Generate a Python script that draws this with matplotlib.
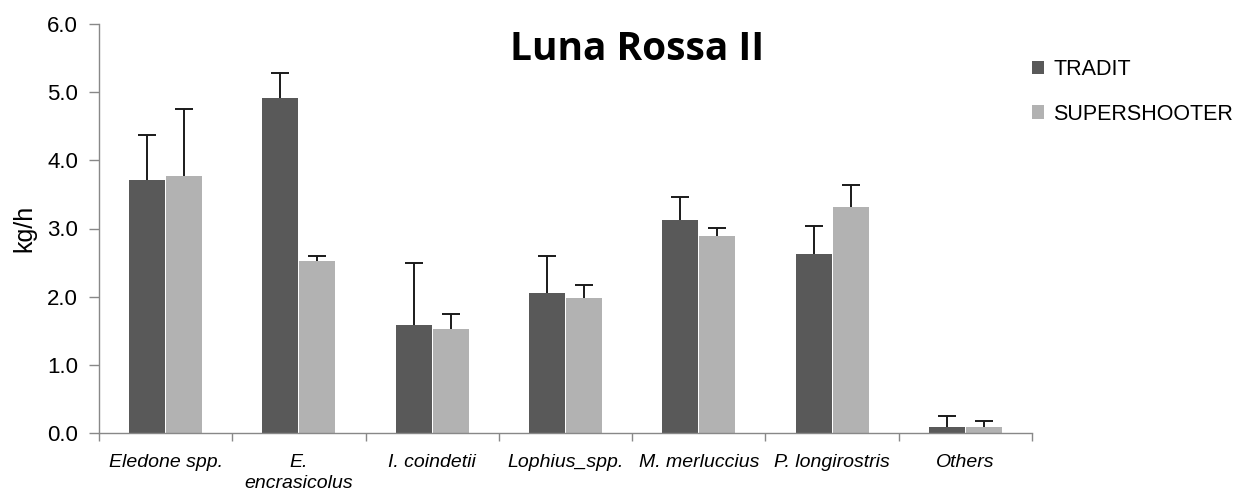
#!/usr/bin/env python3
# -*- coding: utf-8 -*-
"""
Grouped bar chart of catch rates (kg/h) by species for Luna Rossa II.
"""

import numpy as np
import matplotlib
matplotlib.use('Agg')
import matplotlib.pyplot as plt

species = ['Eledone spp.', 'E.\nencrasicolus', 'I. coindetii', 'Lophius_spp.',
           'M. merluccius', 'P. longirostris', 'Others']
tradit = [3.71, 4.92, 1.58, 2.06, 3.13, 2.63, 0.09]
tradit_err = [0.66, 0.36, 0.92, 0.54, 0.33, 0.40, 0.16]
supershooter = [3.77, 2.53, 1.53, 1.98, 2.89, 3.32, 0.09]
supershooter_err = [0.99, 0.07, 0.22, 0.19, 0.12, 0.32, 0.08]

DARK = '#595959'
LIGHT = '#b2b2b2'

plt.rcParams['font.family'] = ['Liberation Sans', 'DejaVu Sans']

figure = plt.figure(figsize=(12.44, 5.00), dpi=100)
axes = figure.add_axes([0.0796, 0.134, 0.750, 0.818])

x = np.arange(len(species))
width = 0.27
err_kw = dict(ecolor='#1a1a1a', elinewidth=1.4, capsize=6.5, capthick=1.4)
bars_t = axes.bar(x - width / 2 - 0.004, tradit, width, color=DARK,
                  edgecolor='none',
                  yerr=[np.zeros(len(tradit)), tradit_err], error_kw=err_kw,
                  label='TRADIT')
bars_s = axes.bar(x + width / 2 + 0.004, supershooter, width, color=LIGHT,
                  edgecolor='none',
                  yerr=[np.zeros(len(supershooter)), supershooter_err],
                  error_kw=err_kw, label='SUPERSHOOTER')
# only the upper caps are drawn
for container in (bars_t, bars_s):
    caps = container.errorbar.lines[1]
    caps[0].set_visible(False)

axes.set_xlim(-0.5, len(species) - 0.5)
axes.set_ylim(0, 6)
axes.set_yticks(np.arange(0, 6.5, 1.0))
axes.set_yticklabels(['%.1f' % v for v in np.arange(0, 6.5, 1.0)],
                     fontsize=16)
axes.set_xticks(x)
axes.set_xticklabels(species, fontsize=14, style='italic',
                     linespacing=1.35)
axes.set_xticks(np.arange(-0.5, len(species), 1.0), minor=True)
axes.tick_params(axis='x', which='major', length=0, pad=15)
axes.tick_params(axis='x', which='minor', length=6, color='#888888',
                 width=1.0)
axes.tick_params(axis='y', length=7, color='#888888', width=1.0, pad=8)
for side in ['top', 'right']:
    axes.spines[side].set_visible(False)
for side in ['left', 'bottom']:
    axes.spines[side].set_color('#888888')
    axes.spines[side].set_linewidth(1.0)

axes.set_ylabel('kg/h', fontsize=18, labelpad=8)

figure.text(0.512, 0.9, 'Luna Rossa II', ha='center', va='center',
            fontsize=28, fontweight='bold', family=['Open Sans', 'DejaVu Sans'])

legend = figure.legend(loc='upper left', bbox_to_anchor=(0.8296, 0.882),
                       frameon=False, fontsize=15.5, handlelength=0.55,
                       handleheight=0.6, handletextpad=0.45, labelspacing=1.1,
                       borderpad=0, borderaxespad=0)

figure.savefig('out.png', dpi=100)
plt.close(figure)
